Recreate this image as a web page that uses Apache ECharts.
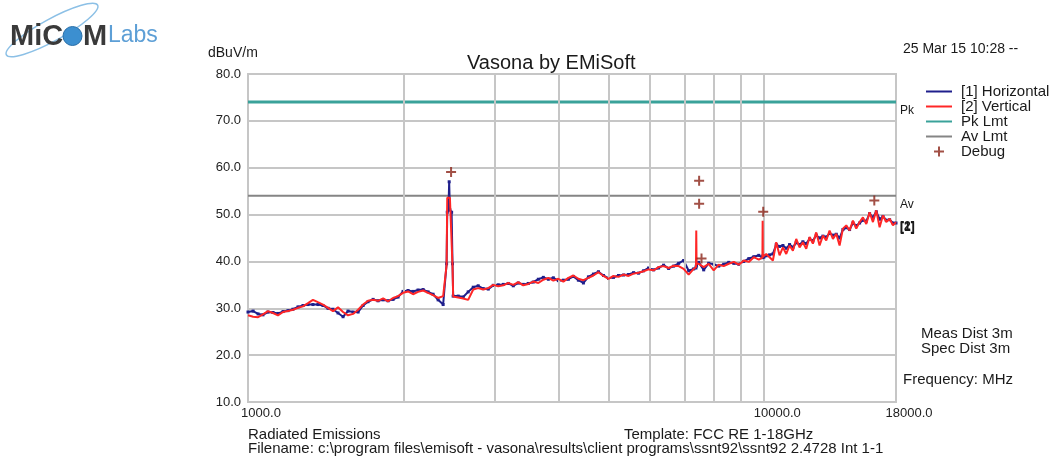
<!DOCTYPE html>
<html>
<head>
<meta charset="utf-8">
<script src="https://cdn.jsdelivr.net/npm/echarts@6.0.0/dist/echarts.min.js"></script>
<style>
  html, body { margin: 0; padding: 0; background: #fff; }
  #emi_chart { width: 1062px; height: 463px; }
</style>
</head>
<body>
<div id="emi_chart"></div>
<script>
// frequency points in MHz (shared by both polarisations)
var freqs = [1000, 1023, 1046, 1069, 1093, 1118, 1143, 1169, 1195, 1222,
    1250, 1278, 1307, 1336, 1366, 1397, 1429, 1461, 1494, 1528,
    1562, 1598, 1634, 1671, 1708, 1747, 1786, 1827, 1868, 1910,
    1953, 1997, 2042, 2088, 2135, 2184, 2233, 2283, 2335, 2388,
    2425, 2432, 2445, 2453, 2461, 2480, 2490, 2497,
    2554, 2611, 2670, 2731, 2792, 2855, 2920, 2986, 3053, 3122,
    3193, 3265, 3339, 3414, 3491, 3570, 3651, 3733, 3818, 3904,
    3992, 4082, 4175, 4269, 4365, 4464, 4565, 4668, 4774, 4882,
    4992, 5105, 5220, 5338, 5459, 5583, 5709, 5838, 5970, 6105,
    6243, 6384, 6528, 6676, 6827, 6981, 7139, 7300, 7375, 7385,
    7395, 7465, 7634, 7806, 7983, 8163, 8348, 8537, 8730, 8927,
    9129, 9335, 9546, 9762, 9920, 9930, 9940, 9983,
    10090, 10241, 10395, 10550, 10708, 10869, 11032, 11197, 11365, 11535,
    11708, 11883, 12061, 12242, 12425, 12612, 12801, 12993, 13187, 13385,
    13586, 13789, 13996, 14206, 14419, 14635, 14854, 15077, 15303, 15532,
    15765, 16001, 16241, 16484, 16731, 16982, 17237, 17495, 17757, 18000];

// [1] Horizontal, dBuV/m
var horizontal = [29.2, 29.4, 28.8, 28.6, 29.2, 29.1, 28.9, 29.3, 29.5, 29.8,
    30.3, 30.6, 30.8, 30.8, 30.8, 30.6, 30.0, 29.8, 29.0, 28.2,
    29.4, 29.2, 29.2, 30.6, 31.4, 31.9, 31.6, 31.8, 31.6, 31.9,
    32.4, 33.6, 33.8, 33.6, 33.9, 34.0, 33.5, 33.0, 31.8, 30.8,
    39.5, 50.5, 51.0, 57.0, 51.0, 50.5, 39.5, 32.6,
    32.6, 32.4, 33.5, 34.5, 34.8, 34.2, 34.1, 34.9, 35.0, 35.1,
    35.3, 34.8, 35.4, 35.1, 35.3, 35.6, 36.2, 36.6, 36.2, 36.5,
    35.9, 36.0, 36.2, 36.8, 36.0, 35.4, 36.7, 37.3, 37.8, 37.0,
    36.4, 36.6, 37.0, 37.1, 37.2, 37.6, 37.5, 38.0, 38.6, 38.2,
    38.6, 39.2, 38.5, 39.0, 39.6, 40.2, 38.0, 38.4, 38.6, 39.0,
    39.2, 39.8, 38.2, 39.6, 39.4, 39.0, 39.4, 39.8, 39.6, 39.4,
    40.0, 40.6, 41.0, 41.3, 40.8, 41.0, 41.2, 40.9,
    41.2, 41.4, 41.6, 43.6, 43.2, 43.4, 42.8, 43.6, 43.0, 44.0,
    43.6, 44.2, 43.8, 44.8, 44.4, 45.6, 45.0, 45.4, 45.2, 46.0,
    45.6, 45.8, 45.0, 46.8, 47.2, 46.8, 48.2, 47.6, 48.2, 48.8,
    48.6, 50.2, 49.4, 50.6, 49.0, 49.6, 48.8, 48.9, 48.2, 48.2];

// [2] Vertical, dBuV/m
var vertical = [28.5, 28.2, 28.1, 28.7, 29.4, 29.0, 28.5, 29.2, 29.4, 29.7,
    30.1, 30.4, 31.1, 31.8, 31.3, 30.8, 30.1, 29.4, 30.2, 29.2,
    28.5, 28.8, 29.7, 30.8, 31.6, 31.8, 31.6, 32.1, 31.5, 32.2,
    32.6, 33.3, 33.6, 33.0, 33.5, 33.8, 33.3, 32.8, 32.2, 32.6,
    39.2, 53.6, 53.6, 53.6, 53.6, 53.6, 39.0, 32.5,
    32.3, 32.1, 31.8, 34.0, 34.3, 34.0, 34.3, 35.0, 34.7, 34.9,
    35.4, 35.0, 35.6, 34.9, 35.2, 35.7, 35.4, 36.1, 36.5, 35.9,
    36.3, 35.7, 36.5, 37.0, 36.3, 36.0, 36.5, 37.0, 37.7, 36.9,
    36.3, 36.9, 36.7, 37.2, 36.9, 37.4, 37.6, 37.9, 38.3, 38.1,
    38.8, 39.0, 38.6, 39.1, 39.0, 38.4, 37.2, 38.4, 38.8, 46.6,
    39.5, 39.5, 38.8, 39.5, 38.1, 39.3, 39.0, 39.5, 39.9, 39.3,
    40.2, 39.9, 40.9, 40.4, 40.8, 48.7, 41.0, 40.9,
    41.6, 40.9, 40.2, 44.1, 41.3, 43.0, 41.6, 43.4, 42.3, 44.8,
    43.0, 44.1, 42.7, 45.2, 43.8, 46.2, 43.4, 45.5, 44.5, 46.6,
    44.8, 45.9, 43.4, 47.0, 47.7, 46.6, 48.7, 47.0, 48.4, 49.4,
    48.0, 50.5, 48.4, 50.9, 47.3, 49.8, 48.4, 49.1, 47.7, 48.4];

var pkLimit = 74.0;
var avLimit = 54.0;

// debug markers [MHz, dBuV/m]
var debugPoints = [[2474, 59.1], [7480, 57.2], [7480, 52.3], [9955, 50.6], [16340, 53.0], [7560, 40.6]];

// minor log grid lines
var gridFreqs = [2000, 3000, 4000, 5000, 6000, 7000, 8000, 9000];

var yTicks = [10, 80, 10]; // min, max, step

var plusPath = 'path://M4,0H6V4H10V6H6V10H4V6H0V4H4Z';
var linePath = 'path://M0,0H26V2H0Z';
var fontName = '"Liberation Sans", Arial, sans-serif';

var myChart = echarts.init(document.getElementById('emi_chart'), null, {renderer: 'canvas'});

function pairs(vals) {
    return freqs.map(function (f, i) { return [f, vals[i]]; });
}

var option = {
    animation: false,
    backgroundColor: '#ffffff',
    textStyle: {fontFamily: fontName},
    title: {
        text: 'Vasona by EMiSoft',
        left: 462,
        top: 48,
        textStyle: {fontSize: 20, fontWeight: 'normal', color: '#1a1a1a', fontFamily: fontName}
    },
    legend: {
        orient: 'vertical',
        left: 921,
        top: 79,
        itemGap: 0,
        itemWidth: 26,
        itemHeight: 10,
        selectedMode: false,
        textStyle: {fontSize: 15, color: '#1a1a1a', lineHeight: 15, fontFamily: fontName, padding: [0, 0, 0, 4]},
        data: [
            {name: '[1] Horizontal', icon: linePath},
            {name: '[2] Vertical', icon: linePath},
            {name: 'Pk Lmt', icon: linePath},
            {name: 'Av Lmt', icon: linePath},
            {name: 'Debug', icon: plusPath}
        ]
    },
    grid: {
        left: 248,
        right: 166,
        top: 74,
        bottom: 61,
        show: true,
        borderColor: '#c6c6c6',
        borderWidth: 2
    },
    xAxis: {
        type: 'log',
        logBase: 10,
        min: 1000,
        max: 18000,
        axisLine: {show: false},
        axisTick: {show: false},
        splitLine: {show: true, lineStyle: {color: '#c6c6c6', width: 2}},
        axisLabel: {
            color: '#222',
            fontSize: 13,
            margin: 5,
            padding: [0, 0, 0, 26],
            showMinLabel: true,
            showMaxLabel: true,
            formatter: function (v) { return Number(v).toFixed(1); }
        }
    },
    yAxis: {
        type: 'value',
        min: yTicks[0],
        max: yTicks[1],
        interval: yTicks[2],
        axisLine: {show: false},
        axisTick: {show: false},
        splitLine: {show: true, lineStyle: {color: '#c6c6c6', width: 2}},
        axisLabel: {
            color: '#222',
            fontSize: 13,
            margin: 7,
            padding: [0, 0, 5, 0],
            formatter: function (v) { return v.toFixed(1); }
        }
    },
    graphic: [
        // logo
        {type: 'ellipse', shape: {cx: 52, cy: 30, rx: 52, ry: 11}, rotation: 0.5, originX: 52, originY: 30,
            style: {fill: 'none', stroke: '#8cc0e6', lineWidth: 1.5}},
        {type: 'text', left: 10, top: 22, style: {text: 'MiC', font: 'bold 29px ' + fontName, fill: '#3a3a3a'}},
        {type: 'circle', shape: {cx: 72.5, cy: 36, r: 9.5}, style: {fill: '#3c8fd0', stroke: '#2a6fa8', lineWidth: 1}},
        {type: 'text', left: 83, top: 22, style: {text: 'M', font: 'bold 29px ' + fontName, fill: '#3a3a3a'}},
        {type: 'text', left: 108, top: 24, style: {text: 'Labs', font: '23px ' + fontName, fill: '#5d9fd6'}},
        // header texts
        {type: 'text', left: 208, top: 46, style: {text: 'dBuV/m', font: '14px ' + fontName, fill: '#1a1a1a'}},
        {type: 'text', left: 903, top: 42, style: {text: '25 Mar 15 10:28 --', font: '14px ' + fontName, fill: '#1a1a1a'}},
        // right side notes
        {type: 'text', left: 921, top: 326, style: {text: 'Meas Dist 3m', font: '15px ' + fontName, fill: '#1a1a1a'}},
        {type: 'text', left: 921, top: 341, style: {text: 'Spec Dist 3m', font: '15px ' + fontName, fill: '#1a1a1a'}},
        {type: 'text', left: 903, top: 372, style: {text: 'Frequency: MHz', font: '15px ' + fontName, fill: '#1a1a1a'}},
        // footer
        {type: 'text', left: 248, top: 427, style: {text: 'Radiated Emissions', font: '15px ' + fontName, fill: '#1a1a1a'}},
        {type: 'text', left: 624, top: 427, style: {text: 'Template: FCC RE 1-18GHz', font: '15px ' + fontName, fill: '#1a1a1a'}},
        {type: 'text', left: 248, top: 441, style: {text: 'Filename: c:\\program files\\emisoft - vasona\\results\\client programs\\ssnt92\\ssnt92 2.4728 Int 1-1', font: '15px ' + fontName, fill: '#1a1a1a'}}
    ],
    series: [
        {
            name: 'gridlines',
            type: 'line',
            data: [],
            silent: true,
            z: 1,
            markLine: {
                silent: true,
                symbol: 'none',
                label: {show: false},
                lineStyle: {color: '#c6c6c6', width: 2, type: 'solid'},
                data: gridFreqs.map(function (f) { return {xAxis: f}; })
            }
        },
        {
            name: 'Pk Lmt',
            type: 'line',
            data: [[1000, pkLimit], [18000, pkLimit]],
            showSymbol: false,
            color: '#3aa29a',
            lineStyle: {color: '#3aa29a', width: 3},
            endLabel: {show: true, formatter: 'Pk', distance: 4, offset: [0, 9], fontSize: 12, color: '#1a1a1a'},
            z: 3
        },
        {
            name: 'Av Lmt',
            type: 'line',
            data: [[1000, avLimit], [18000, avLimit]],
            showSymbol: false,
            color: '#858585',
            lineStyle: {color: '#858585', width: 2},
            endLabel: {show: true, formatter: 'Av', distance: 4, offset: [0, 9], fontSize: 12, color: '#1a1a1a'},
            z: 3
        },
        {
            name: '[1] Horizontal',
            type: 'line',
            data: pairs(horizontal),
            color: '#1f1f8c',
            showSymbol: true,
            showAllSymbol: true,
            symbol: 'rect',
            symbolSize: 3,
            itemStyle: {color: '#1f1f8c'},
            lineStyle: {color: '#1f1f8c', width: 2},
            endLabel: {show: true, formatter: '[1]', distance: 4, offset: [0, 5], fontSize: 12, fontWeight: 'bold', color: '#1a1a1a'},
            z: 4
        },
        {
            name: '[2] Vertical',
            type: 'line',
            data: pairs(vertical),
            color: '#ff2626',
            showSymbol: false,
            lineStyle: {color: '#ff2626', width: 2},
            endLabel: {show: true, formatter: '[2]', distance: 4, offset: [0, 5], fontSize: 12, fontWeight: 'bold', color: '#1a1a1a'},
            z: 5
        },
        {
            name: 'Debug',
            type: 'scatter',
            data: debugPoints,
            symbol: plusPath,
            symbolSize: 10,
            color: '#8b2418',
            itemStyle: {color: '#8b2418'},
            z: 6
        }
    ]
};
myChart.setOption(option);
</script>
</body>
</html>
